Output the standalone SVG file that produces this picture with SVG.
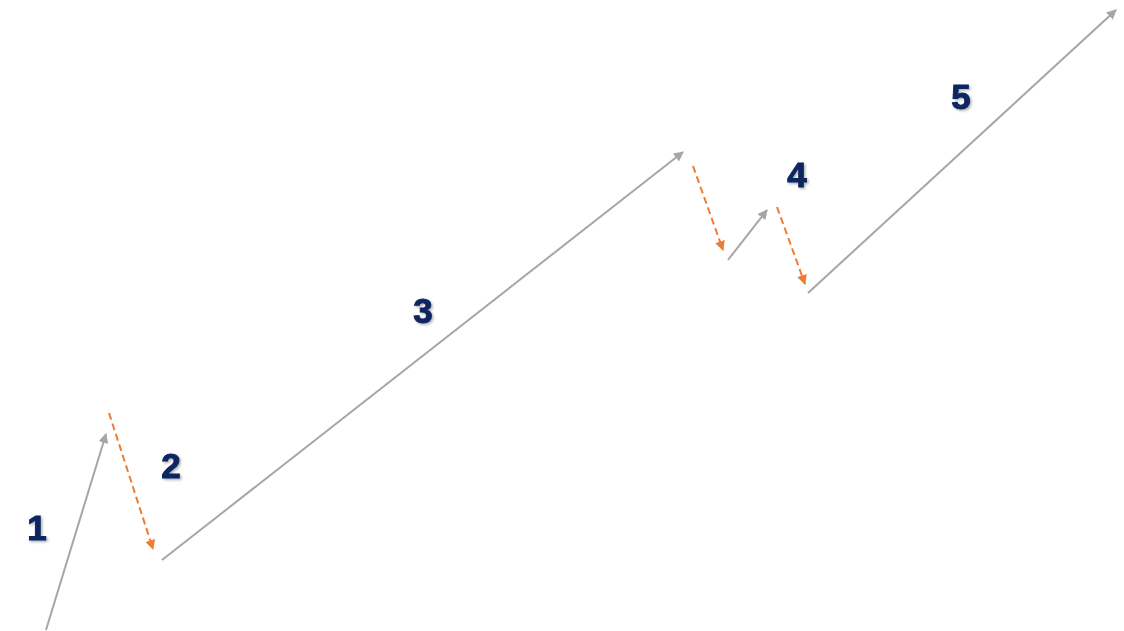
<svg xmlns="http://www.w3.org/2000/svg" width="1124" height="631" viewBox="0 0 1124 631">
<style>
.up{stroke:#A6A6A6;stroke-width:2;fill:none}
.dn{stroke:#ED7D31;stroke-width:2;fill:none;stroke-dasharray:7 4}
.lbl{font-family:"Liberation Sans",Arial,sans-serif;font-weight:bold;font-size:35px;fill:#0C2660;stroke:#0C2660;stroke-width:1;text-anchor:middle;filter:url(#sh)}
</style>
<defs>
<marker id="ag" viewBox="0 0 10 10" refX="9" refY="5" markerWidth="5" markerHeight="5" orient="auto" markerUnits="strokeWidth"><path d="M0,0L10,5L0,10z" fill="#A6A6A6"/></marker>
<marker id="ao" viewBox="0 0 10 10" refX="9" refY="5" markerWidth="5" markerHeight="5" orient="auto" markerUnits="strokeWidth"><path d="M0,0L10,5L0,10z" fill="#ED7D31"/></marker>
<filter id="sh" x="-20%" y="-20%" width="150%" height="150%"><feDropShadow dx="1.5" dy="1.5" stdDeviation="1" flood-color="#000" flood-opacity="0.3"/></filter>
</defs>
<rect width="1124" height="631" fill="#fff"/>
<g id="connectors">
<line class="up" x1="46" y1="630" x2="106" y2="434" marker-end="url(#ag)"/>
<line class="dn" x1="109" y1="413" x2="153" y2="549" marker-end="url(#ao)"/>
<line class="up" x1="162" y1="560" x2="683" y2="152" marker-end="url(#ag)"/>
<line class="dn" x1="693" y1="166" x2="723" y2="250" marker-end="url(#ao)"/>
<line class="up" x1="728" y1="260" x2="767" y2="210" marker-end="url(#ag)"/>
<line class="dn" x1="777" y1="207" x2="805" y2="284" marker-end="url(#ao)"/>
<line class="up" x1="808" y1="293" x2="1116" y2="10" marker-end="url(#ag)"/>
</g>
<g id="label1"><text class="lbl" x="37" y="540">1</text></g>
<g id="label2"><text class="lbl" x="171" y="478">2</text></g>
<g id="label3"><text class="lbl" x="423" y="323">3</text></g>
<g id="label4"><text class="lbl" x="797" y="187">4</text></g>
<g id="label5"><text class="lbl" x="961" y="109">5</text></g>
</svg>
